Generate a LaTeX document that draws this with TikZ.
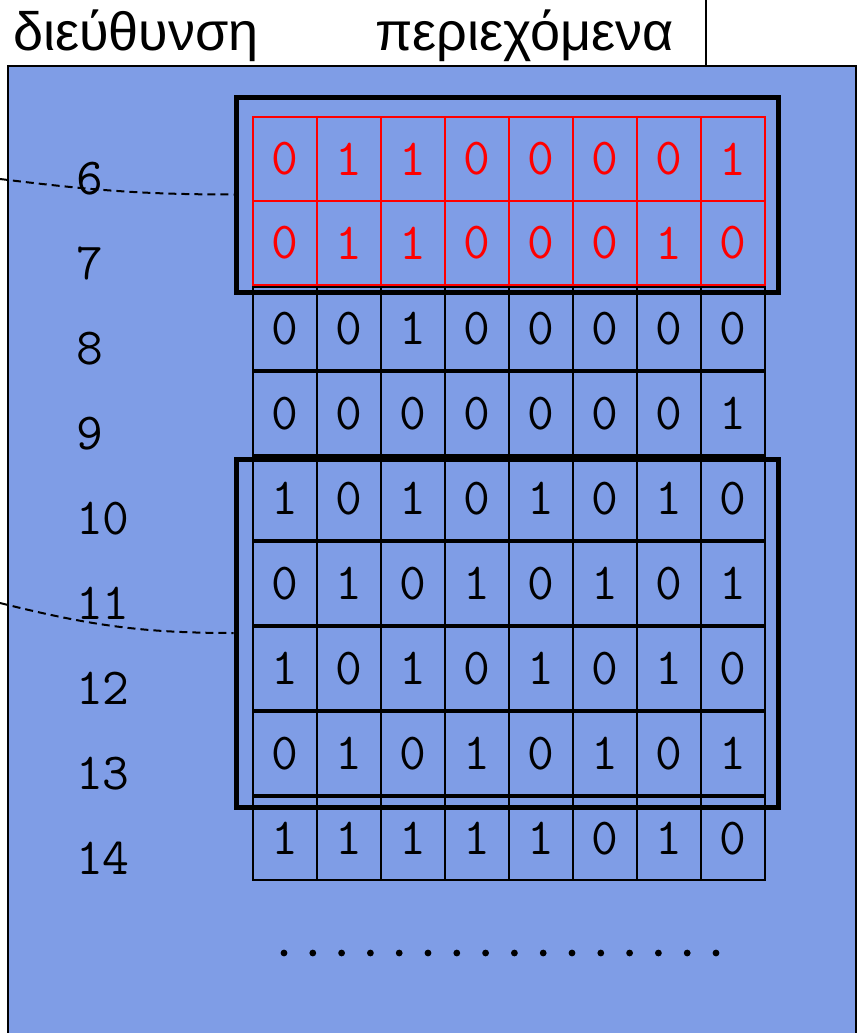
\documentclass[tikz,border=0pt]{standalone}
\usepackage{fontspec}
\setmainfont{Liberation Sans}
\definecolor{memblue}{RGB}{127,157,230}
\begin{document}
\begin{tikzpicture}[x=1pt,y=-1pt,
  cellb/.style={draw=black, line width=1.6pt, minimum width=64pt, minimum height=83pt, inner sep=0pt,
    font=\ttfamily\fontsize{52}{52}\selectfont, text=black},
  cellr/.style={cellb, draw=red, line width=1.3pt, minimum height=84pt, text=red},
  addr/.style={inner sep=0pt, font=\ttfamily\fontsize{52}{52}\selectfont\addfontfeatures{LetterSpace=13}, anchor=west},
  head/.style={inner sep=0pt, font=\fontsize{54}{54}\selectfont, anchor=base west},
  bigbox/.style={draw=black, line width=5pt, minimum width=542pt, inner sep=0pt},
  link/.style={draw=black, line width=2pt, dash pattern=on 8pt off 5pt},
  dotmark/.style={fill=black}
]
\useasboundingbox (0,0) rectangle (858,1033);
% memory background
\filldraw[fill=memblue, draw=black, line width=2pt] (8,66) rectangle (856,1050);
% header
\node[head] (h1) at (13,51) {διεύθυνση};
\node[head] (h2) at (375,51) {περιεχόμενα};
\coordinate (sepTop) at (706,0);
\coordinate (sepBot) at (706,66);
\draw[line width=1.5pt] (sepTop) -- (sepBot);
% red rows
\foreach \bits [count=\i] in {{0,1,1,0,0,0,0,1},{0,1,1,0,0,0,1,0}}{
  \pgfmathsetmacro\yc{117+84*(\i-1)+42}
  \foreach \b [count=\j] in \bits {
    \pgfmathsetmacro\xc{285+64*(\j-1)}
    \node[cellr] (c\i-\j) at (\xc,\yc) {\b};
  }
}
% black rows
\foreach \bits [count=\i from 3] in {{0,0,1,0,0,0,0,0},{0,0,0,0,0,0,0,1},{1,0,1,0,1,0,1,0},{0,1,0,1,0,1,0,1},{1,0,1,0,1,0,1,0},{0,1,0,1,0,1,0,1},{1,1,1,1,1,0,1,0}}{
  \pgfmathsetmacro\yc{287+85*(\i-3)+41.5}
  \foreach \b [count=\j] in \bits {
    \pgfmathsetmacro\xc{285+64*(\j-1)}
    \node[cellb] (c\i-\j) at (\xc,\yc) {\b};
  }
}
% addresses
\foreach \a [count=\i] in {6,7,8,9,10,11,12,13,14}{
  \pgfmathsetmacro\ya{178.5+85*(\i-1)}
  \node[addr] (a\i) at (76,\ya) {\a};
}
% grouping boxes
\node[bigbox, minimum height=195pt] (g1) at (507,194.5) {};
\node[bigbox, minimum height=348pt] (g2) at (507,633) {};
% dashed links from outside
\coordinate (in1) at (0,179);
\coordinate (in2) at (0,603);
\draw[link] (in1) to[out=-7,in=180] (g1.west);
\draw[link] (in2) to[out=-14,in=180] (g2.west);
% continuation dots
\foreach \k in {0,...,15}{
  \fill[dotmark] (284+28.8*\k,953) circle (3.4pt);
}
\end{tikzpicture}
\end{document}
